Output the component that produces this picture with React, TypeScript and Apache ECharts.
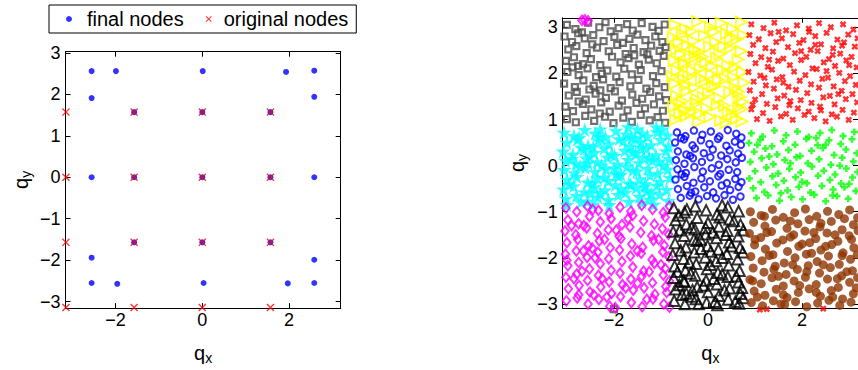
import React, { useEffect, useRef } from "react";
import * as echarts from "echarts";

// ---------- left panel ----------
const xTicks = [-2, 0, 2];
const yTicks = [-3, -2, -1, 0, 1, 2, 3];

const finalNodes: number[][] = [
  [-2.55, 2.56], [-1.99, 2.56], [0.01, 2.56], [1.93, 2.54], [2.58, 2.57],
  [-2.55, 1.91], [2.58, 1.94],
  [-1.57, 1.57], [0, 1.57], [1.57, 1.57],
  [-2.55, 0], [-1.57, 0], [0, 0], [1.57, 0], [2.58, 0],
  [-1.57, -1.57], [0, -1.57], [1.57, -1.57],
  [-2.55, -1.94], [2.58, -1.99],
  [-2.55, -2.55], [-1.96, -2.57], [0.03, -2.55], [1.97, -2.56], [2.58, -2.55],
];
const origCoords = [-3.1416, -1.5708, 0, 1.5708];
const originalNodes: number[][] = [];
origCoords.forEach((y) => origCoords.forEach((x) => originalNodes.push([x, y])));

// ---------- right panel (values in hundredths: x1,y1,x2,y2,...) ----------
const graySquares = [
  -300,305,-282,296,-255,310,-231,300,-218,311,-190,298,-172,307,-160,293,-141,309,-118,301,-105,292,-92,306,-268,289,-207,291,
  -305,280,-289,268,-262,276,-244,283,-222,270,-199,279,-181,266,-150,284,-133,272,-112,280,-97,268,-276,287,-167,275,
  -297,252,-280,259,-258,244,-236,256,-211,248,-193,262,-175,242,-158,255,-137,246,-121,260,-103,249,-90,257,-246,263,-129,241,
  -302,227,-285,235,-266,220,-249,231,-229,218,-204,236,-186,224,-169,233,-147,219,-126,230,-109,222,-94,238,-276,216,-157,239,
  -299,203,-275,196,-256,211,-238,192,-214,206,-195,193,-178,210,-162,198,-143,207,-117,194,-99,205,-288,213,-226,199,
  -306,178,-283,170,-265,185,-243,173,-223,187,-207,168,-188,181,-165,172,-148,186,-131,167,-110,179,-92,170,-252,165,
  -296,152,-279,160,-260,143,-239,156,-217,147,-198,161,-183,141,-161,154,-140,145,-123,160,-104,150,-89,142,-229,163,
  -303,128,-287,118,-266,134,-248,122,-227,137,-209,117,-190,130,-171,120,-152,136,-134,124,-115,133,-96,119,-275,139,
  -300,101,-281,94,-261,108,-242,97,-219,106,-201,92,-180,104,-162,95,-143,110,-124,98,-107,105,-91,93,-230,113,
  -200,-311,
];
const yellowTriangles = [
  -70,305,-48,296,-22,312,5,300,28,309,52,297,71,311,-35,291,
  -74,278,-55,285,-31,270,-8,282,16,268,39,286,61,274,75,283,
  -68,252,-44,261,-20,246,3,258,25,242,47,255,70,248,-58,241,
  -72,228,-49,219,-27,236,-5,224,18,233,42,217,64,230,-38,239,8,215,
  -66,206,-41,194,-17,210,7,198,31,207,54,192,73,203,-75,193,
  -71,178,-52,187,-29,169,-6,183,15,172,37,188,58,168,76,180,-14,189,
  -67,151,-45,162,-23,143,1,157,24,146,46,160,68,149,-55,140,
  -73,128,-50,119,-26,135,-3,124,19,132,43,117,65,127,74,138,-36,116,
  -69,100,-46,108,-21,95,4,106,27,98,51,110,72,96,-60,112,38,93,
  -62,268,33,258,-12,236,57,214,-33,205,22,186,-48,174,64,160,-10,148,35,130,-60,134,-17,113,12,290,-28,252,48,276,70,122,-52,223,9,171,60,102,
];
const redCrosses = [
  92,306,118,298,141,310,166,293,189,304,214,297,236,309,261,300,287,306,309,295,
  88,283,108,274,133,287,157,276,181,285,203,272,228,281,252,288,275,273,298,284,318,276,
  96,262,122,255,145,268,170,257,194,266,218,251,240,263,266,254,289,267,312,258,
  90,242,113,235,138,247,160,232,185,244,209,236,233,248,257,231,281,243,305,236,
  101,222,127,214,149,227,174,218,198,229,222,211,246,224,270,216,294,228,316,213,
  86,203,111,195,136,208,158,192,183,204,207,196,231,209,255,191,279,201,302,194,
  97,182,123,174,146,187,171,171,195,184,219,176,243,188,267,172,291,183,314,175,
  89,163,115,155,140,167,162,152,187,164,211,157,236,169,259,151,284,162,307,155,
  100,143,125,134,148,146,173,131,197,142,220,136,245,148,269,133,293,144,317,137,
  92,122,117,114,143,127,166,112,191,124,214,117,238,128,263,111,286,121,310,115,
  104,101,131,97,155,107,180,99,226,103,250,96,274,106,299,99,
  110,-312,125,-311,245,-310,
  215,290,228,262,198,248,252,205,277,155,160,180,130,230,300,218,265,240,175,140,240,120,120,190,150,290,205,110,285,260,95,132,
];
const cyanStars = [
  -306,72,-285,65,-262,78,-240,70,-218,62,-196,76,-173,68,-150,79,-129,64,-108,73,-86,66,-274,61,-229,79,-162,61,-97,79,
  -300,50,-278,57,-255,43,-233,55,-210,47,-189,58,-166,42,-143,52,-121,45,-100,56,-84,42,-244,41,-155,59,
  -308,31,-287,24,-264,36,-242,28,-221,38,-199,22,-177,33,-154,26,-132,37,-111,23,-90,32,-252,21,-143,39,
  -303,11,-281,4,-259,16,-236,8,-214,18,-192,3,-170,13,-147,6,-125,17,-104,9,-83,15,-226,1,-137,19,
  -306,-9,-284,-16,-261,-4,-240,-13,-217,-7,-195,-18,-173,-2,-151,-12,-128,-6,-107,-17,-86,-8,-272,-1,-185,-19,
  -300,-30,-279,-24,-256,-36,-235,-27,-212,-33,-190,-22,-168,-38,-145,-29,-123,-21,-102,-35,-81,-26,-246,-39,-133,-40,
  -307,-51,-286,-44,-263,-57,-241,-46,-219,-53,-197,-42,-176,-58,-153,-48,-131,-55,-109,-43,-88,-52,-229,-60,-164,-41,
  -302,-71,-280,-65,-257,-77,-234,-68,-212,-74,-191,-63,-168,-78,-146,-67,-124,-73,-103,-62,-84,-76,-270,-79,-140,-80,
  -295,-40,-250,-60,-205,25,-180,55,-120,-60,-95,0,-270,40,-220,-25,-160,-10,-140,70,-300,-85,-245,-84,-210,-85,-115,-84,
  -170,84,-110,84,-255,5,-185,-50,-135,-45,-290,15,-230,62,-200,-5,-160,30,-118,12,
];
const blueCircles = [
  -66,72,-48,64,-30,76,-12,67,6,74,24,63,42,77,60,69,71,61,-57,60,
  -70,50,-51,57,-33,44,-15,55,3,47,21,58,39,43,57,52,70,45,
  -64,31,-46,24,-28,37,-9,27,10,35,28,22,46,33,64,26,-38,21,
  -68,12,-50,4,-32,16,-13,8,5,18,23,2,41,14,59,7,72,17,
  -65,-8,-47,-16,-29,-3,-11,-13,8,-6,26,-18,44,-9,62,-14,-56,-19,
  -69,-30,-50,-24,-31,-37,-14,-28,4,-34,22,-23,40,-38,58,-29,71,-36,
  -64,-51,-45,-44,-27,-56,-8,-47,11,-58,29,-43,47,-53,65,-46,-36,-59,
  -58,-70,-39,-65,-20,-73,-2,-66,17,-71,35,-64,53,-74,69,-67,
];
const greenPluses = [
  92,70,116,63,141,76,166,66,190,74,214,62,238,71,263,77,287,64,311,73,
  87,49,111,56,136,42,160,53,185,45,209,58,233,44,257,55,282,47,306,57,
  98,30,122,37,147,24,171,34,196,21,220,32,244,38,268,23,293,35,316,27,
  90,8,114,16,139,3,163,12,188,18,212,5,236,14,261,2,285,17,309,9,
  100,-12,124,-4,149,-17,173,-7,197,-15,221,-2,246,-11,270,-19,294,-6,318,-14,
  88,-28,112,-36,137,-23,161,-33,186,-25,210,-38,234,-22,259,-31,283,-39,307,-26,
  96,-49,120,-57,145,-42,169,-54,193,-46,218,-58,242,-44,266,-52,290,-47,314,-55,
  103,-70,128,-65,152,-76,177,-68,201,-73,226,-63,250,-77,274,-66,298,-72,
  130,20,250,45,200,-35,280,0,155,-60,230,60,105,45,300,-40,175,5,265,-65,
];
const magentaDiamonds = [
  -302,-92,-279,-100,-256,-88,-233,-97,-210,-104,-187,-90,-164,-99,-141,-86,-118,-95,-95,-102,-82,-88,
  -298,-118,-275,-126,-252,-110,-229,-122,-206,-115,-183,-128,-160,-108,-137,-120,-114,-127,-91,-112,-264,-130,
  -304,-142,-281,-150,-258,-135,-235,-147,-212,-139,-189,-153,-166,-133,-143,-145,-120,-152,-97,-137,-84,-149,
  -300,-167,-277,-160,-254,-174,-231,-163,-208,-178,-185,-158,-162,-170,-139,-177,-116,-162,-93,-173,-246,-179,
  -303,-192,-280,-185,-257,-199,-234,-188,-211,-202,-188,-183,-165,-196,-142,-190,-119,-204,-96,-187,-83,-198,
  -298,-217,-275,-210,-252,-224,-229,-213,-206,-227,-183,-208,-160,-220,-137,-229,-114,-212,-91,-223,-268,-229,
  -302,-242,-279,-235,-256,-249,-233,-238,-210,-252,-187,-233,-164,-246,-141,-240,-118,-254,-95,-237,-82,-250,
  -297,-267,-274,-260,-251,-274,-228,-263,-205,-277,-182,-258,-159,-270,-136,-265,-113,-279,-90,-262,-243,-280,
  -301,-293,-278,-287,-255,-300,-232,-290,-209,-305,-186,-284,-163,-297,-140,-306,-117,-289,-94,-300,-82,-307,-197,-308,
  -262,316,-255,314,-268,315,
  -290,-130,-220,-160,-150,-185,-100,-215,-240,-200,-175,-265,-125,-230,-285,-245,-195,-140,-130,-290,
  -265,-185,-215,-285,-105,-160,-170,-115,-245,-95,-300,-205,-150,-255,-225,-245,-88,-275,-275,-280,
];
const blackTriangles = [
  -73,-92,-50,-101,-27,-88,-4,-97,19,-106,42,-90,65,-99,-62,-108,30,-86,
  -69,-118,-46,-127,-23,-113,0,-124,23,-132,46,-116,69,-128,-35,-134,
  -74,-143,-51,-152,-28,-138,-5,-149,18,-157,41,-141,64,-153,75,-140,-16,-160,
  -70,-168,-47,-177,-24,-163,-1,-174,22,-182,45,-166,68,-178,-58,-184,
  -75,-193,-52,-202,-29,-188,-6,-199,17,-207,40,-191,63,-203,74,-188,6,-186,
  -71,-218,-48,-227,-25,-213,-2,-224,21,-232,44,-216,67,-228,-37,-234,
  -73,-243,-50,-252,-27,-238,-4,-249,19,-257,42,-241,65,-253,-61,-259,30,-236,
  -69,-268,-46,-277,-23,-263,0,-274,23,-282,46,-266,69,-278,-35,-284,
  -72,-293,-49,-300,-26,-289,-3,-297,20,-302,43,-290,66,-299,75,-287,
  -60,-140,10,-145,55,-120,-15,-180,30,-200,-40,-210,60,-240,-10,-260,35,-270,-55,-280,15,-295,-30,-160,50,-175,
  -65,-230,5,-215,25,-112,-45,-95,72,-265,-20,-300,58,-295,-5,-135,38,-150,-52,-250,12,-245,-33,-270,
];
const brownDots = [
  90,-100,113,-108,137,-95,160,-112,184,-102,207,-94,231,-110,254,-99,278,-106,301,-96,318,-113,
  97,-123,121,-131,144,-118,168,-136,191,-126,215,-117,238,-133,262,-121,285,-139,309,-128,
  88,-147,112,-156,135,-143,159,-161,182,-150,206,-142,229,-158,253,-146,276,-164,300,-152,319,-141,
  99,-172,122,-181,146,-168,169,-186,193,-175,216,-167,240,-183,263,-171,287,-189,310,-178,
  91,-197,115,-206,138,-193,162,-211,185,-200,209,-192,232,-208,256,-196,279,-214,303,-203,317,-193,
  96,-222,119,-231,143,-218,166,-236,190,-225,213,-217,237,-233,260,-221,284,-239,307,-228,
  89,-247,113,-256,136,-243,160,-261,183,-250,207,-242,230,-258,254,-246,277,-264,301,-253,318,-243,
  98,-272,121,-281,145,-268,168,-286,192,-275,215,-267,239,-283,262,-271,286,-289,309,-278,
  92,-297,116,-304,139,-293,163,-301,186,-295,210,-306,233,-298,257,-292,280,-303,304,-296,
  125,-145,175,-120,220,-190,270,-150,150,-240,195,-260,245,-215,295,-230,105,-285,180,-215,
  265,-285,130,-195,225,-145,290,-115,160,-280,210,-230,240,-125,100,-160,315,-265,175,-155,
  250,-175,140,-225,200,-170,285,-195,120,-110,230,-275,275,-245,155,-300,95,-250,305,-160,
];

const toPoints = (flat: number[]) => {
  const pts: number[][] = [];
  for (let i = 0; i + 1 < flat.length; i += 2) pts.push([flat[i] / 100, flat[i + 1] / 100]);
  return pts;
};

const FONT = "'Liberation Sans', Arial, Helvetica, sans-serif";
const X_PATH = "path://M0,0L10,10M10,0L0,10";
const PLUS_PATH = "path://M5,0L5,10M0,5L10,5";
const X_FILLED =
  "path://M0,1.2L1.2,0L5,3.8L8.8,0L10,1.2L6.2,5L10,8.8L8.8,10L5,6.2L1.2,10L0,8.8L3.8,5Z";
const STAR_PATH =
  "path://M50,0L61,35L98,35L68,57L79,91L50,70L21,91L32,57L2,35L39,35Z";

const rightSeriesDefs = [
  { name: "gray", pts: graySquares, symbol: "rect", size: 6, color: "#4d4d4d", hollow: true, lw: 2.2, rot: 0 },
  { name: "yellow", pts: yellowTriangles, symbol: "triangle", size: 11, color: "#ffff00", hollow: true, lw: 2, rot: -90 },
  { name: "red", pts: redCrosses, symbol: X_PATH, size: 5, color: "#ff0000", hollow: true, lw: 2.5, rot: 0 },
  { name: "cyan", pts: cyanStars, symbol: STAR_PATH, size: 15, color: "#00ffff", hollow: false, lw: 0, rot: 0 },
  { name: "blue", pts: blueCircles, symbol: "circle", size: 6.5, color: "#0000ff", hollow: true, lw: 2, rot: 0 },
  { name: "green", pts: greenPluses, symbol: PLUS_PATH, size: 7, color: "#00ff00", hollow: true, lw: 2.5, rot: 0 },
  { name: "magenta", pts: magentaDiamonds, symbol: "diamond", size: [7.5, 9.5], color: "#ff00ff", hollow: true, lw: 2, rot: 0 },
  { name: "black", pts: blackTriangles, symbol: "triangle", size: 10.5, color: "#000000", hollow: true, lw: 2, rot: 0 },
  { name: "brown", pts: brownDots, symbol: "circle", size: 9, color: "#8f3500", hollow: false, lw: 0, rot: 0 },
];

const minus = (v: number) => String(v).replace("-", "\u2212");

const nameRich = {
  q: { fontSize: 20, fontFamily: FONT, color: "#000", lineHeight: 22, verticalAlign: "top" },
  s: { fontSize: 14, fontFamily: FONT, color: "#000", lineHeight: 14, verticalAlign: "bottom", padding: [17, 0, 0, 0] },
};

function makeAxis(
  kind: "x" | "y",
  gridIndex: number,
  min: number,
  max: number,
  ticks: number[],
  main: boolean,
  name: string,
  nameGap: number
) {
  const position = kind === "x" ? (main ? "bottom" : "top") : main ? "left" : "right";
  return {
    type: "value",
    gridIndex,
    position,
    min,
    max,
    scale: true,
    name: main ? name : "",
    nameLocation: "middle",
    nameGap,
    nameRotate: kind === "y" ? 90 : 0,
    nameTextStyle: { rich: nameRich },
    axisLine: { show: true, onZero: false, lineStyle: { color: "#000", width: 1 } },
    axisTick: { show: true, inside: true, length: 5, customValues: ticks, lineStyle: { color: "#000", width: 1 } },
    axisLabel: {
      show: main,
      customValues: ticks,
      margin: kind === "x" ? 3 : 5,
      fontSize: 18,
      fontFamily: FONT,
      color: "#000",
      formatter: (v: number) => minus(v),
    },
    splitLine: { show: false },
  };
}

export default function App() {
  const ref = useRef<HTMLDivElement>(null);
  useEffect(() => {
    document.body.style.margin = "0";
    if (!ref.current) return;
    const chart = echarts.init(ref.current, undefined, { renderer: "svg" });

    const L = { xMin: -3.152, xMax: 3.189, yMin: -3.156, yMax: 3.028 };
    const R = { xMin: -3.089, xMax: 3.188, yMin: -3.089, yMax: 3.205 };

    const rightSeries = rightSeriesDefs.map((d) => ({
      type: "scatter",
      name: d.name,
      xAxisIndex: 2,
      yAxisIndex: 2,
      clip: false,
      symbol: d.symbol,
      symbolSize: d.size,
      symbolRotate: d.rot,
      data: toPoints(d.pts),
      itemStyle: d.hollow
        ? { color: "rgba(0,0,0,0)", borderColor: d.color, borderWidth: d.lw }
        : { color: d.color, borderWidth: 0 },
      emphasis: { disabled: true },
    }));

    chart.setOption({
      animation: false,
      backgroundColor: "#fff",
      textStyle: { fontFamily: FONT },
      legend: {
        left: 49,
        top: 5,
        orient: "horizontal",
        padding: [4, 8, 4, 17],
        itemGap: 22,
        itemWidth: 6,
        itemHeight: 6,
        borderColor: "#000",
        borderWidth: 1,
        selectedMode: false,
        textStyle: { fontSize: 20, fontFamily: FONT, color: "#000", lineHeight: 20 },
        data: [
          { name: "final nodes", icon: "circle", textStyle: { padding: [0, 0, 0, 10] } },
          { name: "original nodes", icon: X_FILLED, textStyle: { padding: [0, 0, 0, 7] } },
        ],
      },
      grid: [
        { left: 65.5, top: 51.7, width: 275.2, height: 269.6, containLabel: false },
        { left: 562.7, top: 17.8, width: 306, height: 303.4, containLabel: false },
      ],
      xAxis: [
        makeAxis("x", 0, L.xMin, L.xMax, xTicks, true, "{q|q}{s|x}", 15),
        makeAxis("x", 0, L.xMin, L.xMax, xTicks, false, "", 0),
        makeAxis("x", 1, R.xMin, R.xMax, xTicks, true, "{q|q}{s|x}", 15),
        makeAxis("x", 1, R.xMin, R.xMax, xTicks, false, "", 0),
      ],
      yAxis: [
        makeAxis("y", 0, L.yMin, L.yMax, yTicks, true, "{q|q}{s|y}", 33),
        makeAxis("y", 0, L.yMin, L.yMax, yTicks, false, "", 0),
        makeAxis("y", 1, R.yMin, R.yMax, yTicks, true, "{q|q}{s|y}", 34),
        makeAxis("y", 1, R.yMin, R.yMax, yTicks, false, "", 0),
      ],
      series: [
        {
          type: "scatter",
          name: "final nodes",
          xAxisIndex: 0,
          yAxisIndex: 0,
          clip: false,
          symbol: "circle",
          symbolSize: 6,
          data: finalNodes,
          itemStyle: { color: "#0000ff" },
          emphasis: { disabled: true },
        },
        {
          type: "scatter",
          name: "original nodes",
          xAxisIndex: 0,
          yAxisIndex: 0,
          clip: false,
          symbol: X_FILLED,
          symbolSize: 8,
          data: originalNodes,
          itemStyle: { color: "#ff0000" },
          emphasis: { disabled: true },
        },
        ...rightSeries,
      ],
    });
    return () => chart.dispose();
  }, []);
  return <div ref={ref} style={{ width: 858, height: 370 }} />;
}
